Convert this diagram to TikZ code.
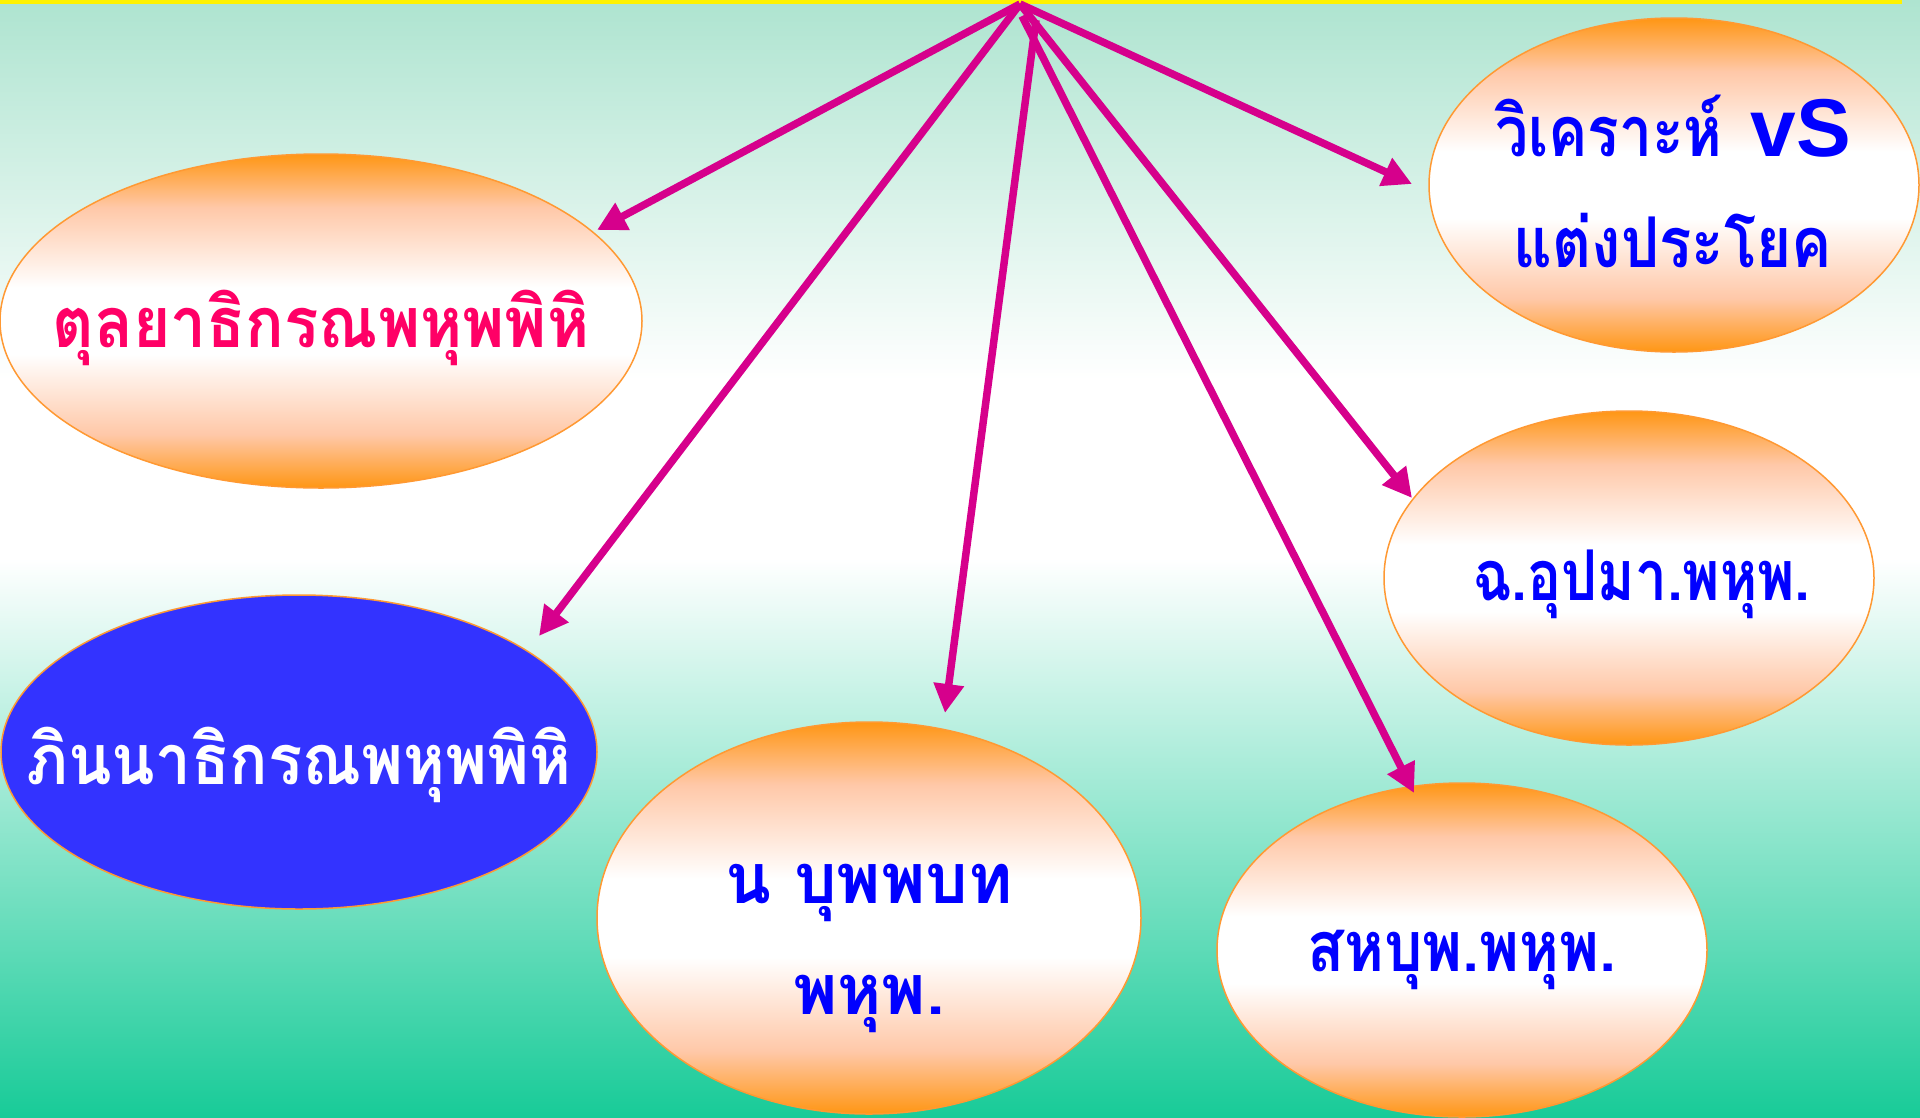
\documentclass[tikz,border=0pt]{standalone}
\usepackage{fontspec}
\usetikzlibrary{arrows.meta,shapes.geometric}
\newfontfamily\thaifont[Script=Thai]{Loma}
\newfontfamily\latfont{Liberation Sans}
\definecolor{bgtop}{RGB}{174,228,208}
\definecolor{bgbot}{RGB}{24,203,152}
\definecolor{orng}{RGB}{255,150,20}
\definecolor{peach}{RGB}{255,200,168}
\definecolor{ellline}{RGB}{255,153,51}
\definecolor{arrowc}{RGB}{214,0,140}
\definecolor{pinkt}{RGB}{255,0,102}
\definecolor{bluet}{RGB}{0,0,255}
\definecolor{blueell}{RGB}{51,51,255}
\pgfdeclareverticalshading{bgshade}{100bp}{color(0bp)=(bgbot); color(25bp)=(bgbot); color(50bp)=(white); color(58bp)=(white); color(75bp)=(bgtop); color(100bp)=(bgtop)}
\pgfdeclareverticalshading{ellshade}{100bp}{color(0bp)=(orng); color(25bp)=(orng); color(33bp)=(peach); color(45bp)=(white); color(55bp)=(white); color(67bp)=(peach); color(75bp)=(orng); color(100bp)=(orng)}
\newcommand{\sx}[2]{\scalebox{#1}[1]{#2}}
\tikzset{
  ell/.style={ellipse, inner sep=0pt, draw=ellline, line width=1.5pt, shading=ellshade},
  blueellipse/.style={ellipse, inner sep=0pt, draw=ellline, line width=1.5pt, fill=blueell},
  thaitext/.style={anchor=base, inner sep=0pt, align=center, font=\thaifont\bfseries\fontsize{70}{111}\selectfont},
  conn/.style={draw=arrowc, line width=7.5pt, -{Triangle[length=29pt,width=29pt]}},
}
\begin{document}
\begin{tikzpicture}[x=1pt,y=-1pt]
\useasboundingbox (0,0) rectangle (1920,1117);
\shade[shading=bgshade] (0,0) rectangle (1920,1117);
\fill[yellow] (0,0) rectangle (1902,4);
% ellipses
\node[ell, minimum width=642pt, minimum height=334pt] (e1) at (321,321) {};
\node[blueellipse, minimum width=596pt, minimum height=314pt] (e2) at (299,752) {};
\node[ell, minimum width=544pt, minimum height=392pt] (e3) at (869,918) {};
\node[ell, minimum width=490pt, minimum height=334pt] (e4) at (1462,950) {};
\node[ell, minimum width=490pt, minimum height=334pt] (e5) at (1629,578) {};
\node[ell, minimum width=490pt, minimum height=334pt] (e6) at (1674,185) {};
% texts
\node[thaitext, text=pinkt] (l1) at (321,347) {\sx{0.915}{ตุลยาธิกรณพหุพพิหิ}};
\node[thaitext, text=white] (l2) at (299,784) {\sx{0.91}{ภินนาธิกรณพหุพพิหิ}};
\node[thaitext, text=bluet] (l3) at (869,1014) {\sx{0.96}{น บุพพบท}\\\sx{0.96}{พหุพ.}};
\node[thaitext, text=bluet] (l4) at (1462,971) {\sx{0.866}{สหบุพ.พหุพ.}};
\node[thaitext, text=bluet] (l5) at (1642,600) {\sx{0.81}{ฉ.อุปมา.พหุพ.}};
\node[thaitext, text=bluet] (l6) at (1673,267) {\sx{0.84}{วิเคราะห์}\hspace*{28pt}{\latfont\bfseries\fontsize{82}{111}\selectfont vS}\\\sx{0.86}{แต่งประโยค}};
% connectors
\coordinate (apex) at (1020,4);
\coordinate (s3) at (1036,20);
\coordinate (s5) at (1022,16);
\coordinate (t1) at (597,230);
\coordinate (t2) at (539,636);
\coordinate (t3) at (945,713);
\coordinate (t4) at (1414,793);
\coordinate (t5) at (1412,498);
\coordinate (t6) at (1412,184);
\draw[conn] (apex) -- (t1);
\draw[conn] (apex) -- (t2);
\draw[conn] (s3) -- (t3);
\draw[conn] (s5) -- (t4);
\draw[conn] (apex) -- (t5);
\draw[conn] (apex) -- (t6);
\end{tikzpicture}
\end{document}
